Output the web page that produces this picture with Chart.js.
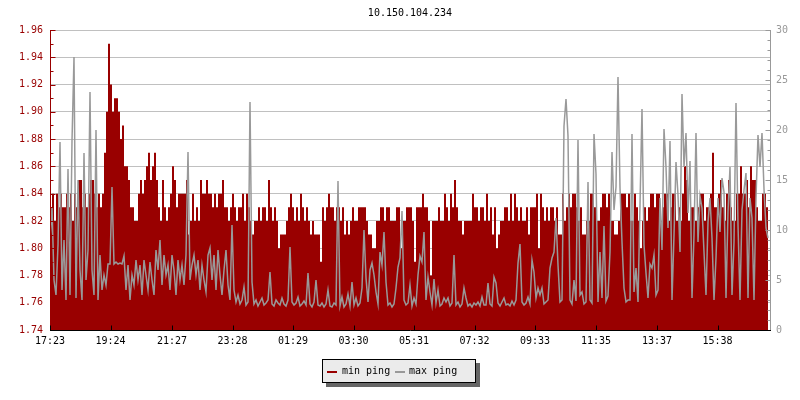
<!DOCTYPE html>
<html>
<head>
<meta charset="utf-8">
<title>10.150.104.234</title>
<script src="https://cdn.jsdelivr.net/npm/chart.js@4.4.0/dist/chart.umd.min.js"></script>
<style>
    html, body { margin: 0; padding: 0; background: #fff; }
    #wrap { position: relative; width: 800px; height: 400px; }
    #legend {
        position: absolute; left: 322px; top: 359px; width: 152px; height: 22px;
        background: #ebebeb; border: 1px solid #000; box-shadow: 4px 4px 0 #666;
        font: 10px "DejaVu Sans Mono", monospace; color: #000;
    }
    #legend span { position: absolute; }
    #legend .sw { top: 11px; width: 10px; height: 2px; }
    #legend .tx { top: 4px; line-height: 13px; }
</style>
</head>
<body>
<div id="wrap">
    <canvas id="chart" width="800" height="400"></canvas>
    <div id="legend">
        <span class="sw" style="left:4px;background:#990000"></span>
        <span class="tx" style="left:19px">min ping</span>
        <span class="sw" style="left:72px;background:#999999"></span>
        <span class="tx" style="left:86px">max ping</span>
    </div>
</div>
<script>
const MONO = "'DejaVu Sans Mono', monospace";
const RED = "#990000";
const GREY = "#999999";

// one sample every 4 minutes, starting 17:23
const SAMPLE_MINUTES = 4;
const TICK_MINUTES = [0, 121, 244, 365, 486, 607, 728, 849, 970, 1092, 1214, 1335];
const TICK_LABELS = ["17:23", "19:24", "21:27", "23:28", "01:29", "03:30",
                     "05:31", "07:32", "09:33", "11:35", "13:37", "15:38"];
const LEFT_TICKS = [1.74, 1.76, 1.78, 1.80, 1.82, 1.84, 1.86, 1.88, 1.90, 1.92, 1.94, 1.96];
const RIGHT_TICKS = [0, 5, 10, 15, 20, 25, 30];

// min ping, left axis
const MIN_PING = [
    1.83,1.84,1.82,1.84,1.83,1.84,1.83,1.83,1.84,1.83,
    1.84,1.82,1.84,1.83,1.85,1.85,1.83,1.84,1.83,1.84,
    1.85,1.85,1.84,1.83,1.84,1.83,1.84,1.87,1.90,1.95,
    1.92,1.90,1.91,1.91,1.90,1.88,1.89,1.86,1.86,1.85,
    1.83,1.83,1.82,1.82,1.84,1.85,1.84,1.85,1.86,1.87,
    1.85,1.86,1.87,1.85,1.83,1.82,1.85,1.83,1.82,1.83,
    1.84,1.86,1.85,1.83,1.84,1.84,1.84,1.84,1.85,1.81,
    1.82,1.84,1.82,1.83,1.82,1.85,1.84,1.84,1.85,1.84,
    1.84,1.83,1.84,1.83,1.84,1.84,1.85,1.83,1.83,1.82,
    1.83,1.84,1.83,1.82,1.83,1.83,1.84,1.82,1.84,1.83,
    1.82,1.81,1.82,1.82,1.83,1.82,1.83,1.83,1.82,1.85,
    1.83,1.82,1.83,1.82,1.80,1.81,1.81,1.81,1.82,1.83,
    1.84,1.83,1.82,1.83,1.82,1.84,1.83,1.82,1.83,1.82,
    1.81,1.82,1.81,1.81,1.81,1.79,1.83,1.82,1.83,1.84,
    1.83,1.83,1.82,1.83,1.83,1.82,1.83,1.81,1.82,1.81,
    1.82,1.83,1.82,1.82,1.83,1.83,1.83,1.83,1.82,1.81,
    1.81,1.80,1.80,1.82,1.82,1.83,1.83,1.82,1.83,1.83,
    1.82,1.82,1.82,1.83,1.83,1.80,1.82,1.82,1.83,1.83,
    1.83,1.82,1.79,1.83,1.83,1.83,1.84,1.83,1.83,1.82,
    1.78,1.82,1.82,1.82,1.83,1.82,1.82,1.84,1.83,1.82,
    1.84,1.83,1.85,1.83,1.82,1.82,1.81,1.82,1.82,1.82,
    1.82,1.84,1.83,1.83,1.82,1.83,1.83,1.82,1.84,1.82,
    1.83,1.81,1.83,1.80,1.81,1.82,1.82,1.83,1.83,1.82,
    1.84,1.82,1.84,1.83,1.82,1.83,1.82,1.82,1.83,1.81,
    1.83,1.83,1.83,1.84,1.80,1.84,1.83,1.82,1.83,1.82,
    1.83,1.83,1.82,1.83,1.81,1.81,1.84,1.82,1.83,1.84,
    1.83,1.84,1.84,1.83,1.82,1.83,1.81,1.81,1.82,1.82,
    1.84,1.84,1.83,1.82,1.82,1.83,1.84,1.84,1.83,1.84,
    1.82,1.82,1.81,1.81,1.82,1.84,1.84,1.84,1.83,1.84,
    1.82,1.82,1.84,1.83,1.82,1.80,1.82,1.83,1.82,1.83,
    1.84,1.84,1.83,1.84,1.84,1.82,1.83,1.84,1.84,1.82,
    1.83,1.84,1.84,1.82,1.83,1.82,1.84,1.86,1.85,1.82,
    1.83,1.83,1.82,1.82,1.83,1.84,1.84,1.82,1.83,1.83,
    1.84,1.87,1.83,1.83,1.84,1.85,1.83,1.82,1.84,1.85,
    1.83,1.82,1.82,1.84,1.84,1.86,1.84,1.84,1.85,1.83,
    1.86,1.85,1.85,1.83,1.82,1.82,1.84,1.84,1.83,1.83
];

// max ping, right axis
const MAX_PING = [
    9.0,12.3,5.0,3.5,8.5,18.8,4.0,9.0,3.0,16.1,
    3.5,18.9,27.3,3.2,15.0,6.0,3.0,17.7,5.0,8.0,
    23.8,6.0,3.5,20.0,3.0,7.5,4.0,5.5,4.5,6.6,
    6.6,14.3,6.6,6.8,6.6,6.7,6.6,7.4,4.0,6.5,
    3.0,5.5,4.5,7.0,5.0,6.5,3.5,7.0,5.5,4.0,
    6.8,5.0,3.5,8.0,6.0,9.0,4.5,7.5,5.5,6.5,
    4.0,7.5,6.0,3.5,7.0,5.0,6.5,4.5,7.5,17.8,
    5.0,6.5,7.5,5.5,7.0,4.0,6.5,5.0,3.8,7.5,
    8.2,5.0,7.5,4.0,8.0,5.5,3.5,6.0,8.0,4.5,
    3.0,10.5,4.0,2.8,3.5,2.6,3.0,4.3,2.5,2.8,
    22.8,4.8,2.6,3.0,2.4,2.8,3.2,2.5,2.7,3.0,
    5.8,2.6,2.4,3.0,2.7,2.5,3.2,2.6,2.4,3.0,
    8.3,2.8,2.5,2.7,3.3,2.4,2.6,2.9,2.5,5.7,
    2.6,2.3,2.8,5.0,2.5,2.4,2.7,2.3,2.6,4.0,
    2.4,2.3,2.7,2.5,14.9,2.4,3.3,2.3,2.6,3.6,
    2.4,4.8,2.5,3.2,2.4,2.7,4.2,10.0,5.2,2.8,
    6.0,6.7,5.5,3.8,2.6,7.8,6.5,9.8,4.8,2.5,
    2.7,2.3,2.6,4.2,6.3,7.2,11.9,3.0,2.5,2.7,
    4.5,2.4,3.2,2.6,5.5,7.4,6.8,9.8,3.0,5.3,
    3.8,2.5,5.1,2.7,4.0,2.4,2.6,3.2,2.8,3.2,
    2.4,2.7,7.5,2.5,2.8,2.3,2.6,4.2,3.2,2.4,
    2.6,2.3,2.7,2.5,2.8,2.4,3.3,2.5,2.5,4.7,
    2.6,2.4,5.3,4.7,2.7,2.4,2.8,3.2,2.5,2.6,
    2.4,2.9,2.5,3.0,6.7,8.6,2.8,2.5,2.7,3.3,
    2.6,7.0,5.8,3.2,4.2,3.5,4.2,2.6,2.8,3.0,
    6.2,7.2,7.8,11.2,6.5,2.8,3.0,20.4,23.1,19.4,
    3.0,2.6,5.0,2.9,19.0,3.5,3.8,2.6,2.8,14.8,
    3.0,2.7,19.6,15.6,2.8,7.8,3.2,10.4,2.9,3.4,
    7.8,17.8,12.0,14.3,25.3,14.2,8.8,4.2,2.8,3.0,
    3.0,19.6,3.8,6.2,2.8,12.5,22.1,8.5,5.7,3.2,
    6.6,6.2,7.5,3.5,4.0,13.2,8.0,20.1,16.3,10.2,
    18.9,3.0,9.5,16.8,13.5,7.8,23.6,16.3,19.7,11.7,
    16.9,3.2,9.5,19.7,8.8,13.4,12.2,7.8,3.5,10.8,
    13.2,9.2,3.0,7.2,13.2,9.8,15.2,13.8,3.2,11.8,
    16.3,3.5,8.8,22.7,10.5,3.0,12.0,14.0,15.7,3.2,
    13.2,11.2,3.0,13.2,19.5,16.3,19.7,14.1,10.2,9.2
];

function toPoints(values) {
    return values.map((v, i) => ({ x: i * SAMPLE_MINUTES, y: v }));
}

// axis lines, inward tick marks (major + minor) and the title
const axisMarks = {
    id: "axisMarks",
    afterDatasetsDraw(chart) {
        const { ctx, chartArea: a, scales } = chart;
        const left = Math.round(a.left) + 0.5;
        const right = Math.round(a.right) + 0.5;
        const bottom = Math.round(a.bottom) + 0.5;
        ctx.save();
        ctx.lineWidth = 1;

        ctx.strokeStyle = RED;
        ctx.beginPath();
        ctx.moveTo(left, a.top);
        ctx.lineTo(left, a.bottom);
        for (let k = 0; k <= 22; k++) {
            const py = Math.round(scales.y.getPixelForValue(1.74 + k * 0.01)) + 0.5;
            ctx.moveTo(left, py);
            ctx.lineTo(left + (k % 2 === 0 ? 5 : 3), py);
        }
        ctx.stroke();

        ctx.strokeStyle = GREY;
        ctx.beginPath();
        ctx.moveTo(right, a.top);
        ctx.lineTo(right, a.bottom);
        for (let k = 0; k <= 30; k++) {
            const py = Math.round(scales.y1.getPixelForValue(k)) + 0.5;
            ctx.moveTo(right, py);
            ctx.lineTo(right - (k % 5 === 0 ? 5 : 3), py);
        }
        ctx.stroke();

        ctx.strokeStyle = "#000";
        ctx.beginPath();
        ctx.moveTo(a.left, bottom);
        ctx.lineTo(a.right + 1, bottom);
        TICK_MINUTES.forEach(m => {
            const px = Math.round(scales.x.getPixelForValue(m)) + 0.5;
            ctx.moveTo(px, bottom);
            ctx.lineTo(px, bottom - 5);
        });
        ctx.stroke();

        ctx.fillStyle = "#000";
        ctx.font = "10px " + MONO;
        ctx.textAlign = "center";
        ctx.textBaseline = "middle";
        ctx.fillText("10.150.104.234", (a.left + a.right) / 2, 13);
        ctx.restore();
    }
};

new Chart(document.getElementById("chart"), {
    type: "line",
    data: {
        datasets: [
            {
                label: "max ping",
                data: toPoints(MAX_PING),
                yAxisID: "y1",
                borderColor: GREY,
                borderWidth: 1.5,
                pointRadius: 0,
                tension: 0,
                fill: false,
                order: 1
            },
            {
                label: "min ping",
                data: toPoints(MIN_PING),
                yAxisID: "y",
                borderColor: RED,
                backgroundColor: RED,
                borderWidth: 0,
                pointRadius: 0,
                stepped: true,
                fill: "start",
                order: 2
            }
        ]
    },
    options: {
        responsive: false,
        animation: false,
        devicePixelRatio: 1,
        layout: { padding: { top: 30, left: 0, right: 0, bottom: 0 } },
        plugins: { legend: { display: false }, title: { display: false }, tooltip: { enabled: false } },
        scales: {
            x: {
                type: "linear", min: 0, max: 1440,
                grid: { display: false, drawTicks: false },
                border: { display: false },
                afterBuildTicks: s => { s.ticks = TICK_MINUTES.map(v => ({ value: v })); },
                afterFit: s => { s.height = 70; },
                ticks: {
                    color: "#000", font: { family: MONO, size: 10 }, padding: 5,
                    autoSkip: false, maxRotation: 0,
                    callback: (v, i) => TICK_LABELS[i]
                }
            },
            y: {
                position: "left", min: 1.74, max: 1.96,
                grid: { color: "#c0c0c0", drawTicks: false },
                border: { display: false },
                afterBuildTicks: s => { s.ticks = LEFT_TICKS.map(v => ({ value: v })); },
                afterFit: s => { s.width = 50; },
                ticks: {
                    color: RED, font: { family: MONO, size: 10 }, padding: 7,
                    callback: v => v.toFixed(2)
                }
            },
            y1: {
                position: "right", min: 0, max: 30,
                grid: { display: false, drawTicks: false },
                border: { display: false },
                afterBuildTicks: s => { s.ticks = RIGHT_TICKS.map(v => ({ value: v })); },
                afterFit: s => { s.width = 30; },
                ticks: { color: GREY, font: { family: MONO, size: 10 }, padding: 6 }
            }
        }
    },
    plugins: [axisMarks]
});
</script>
</body>
</html>
